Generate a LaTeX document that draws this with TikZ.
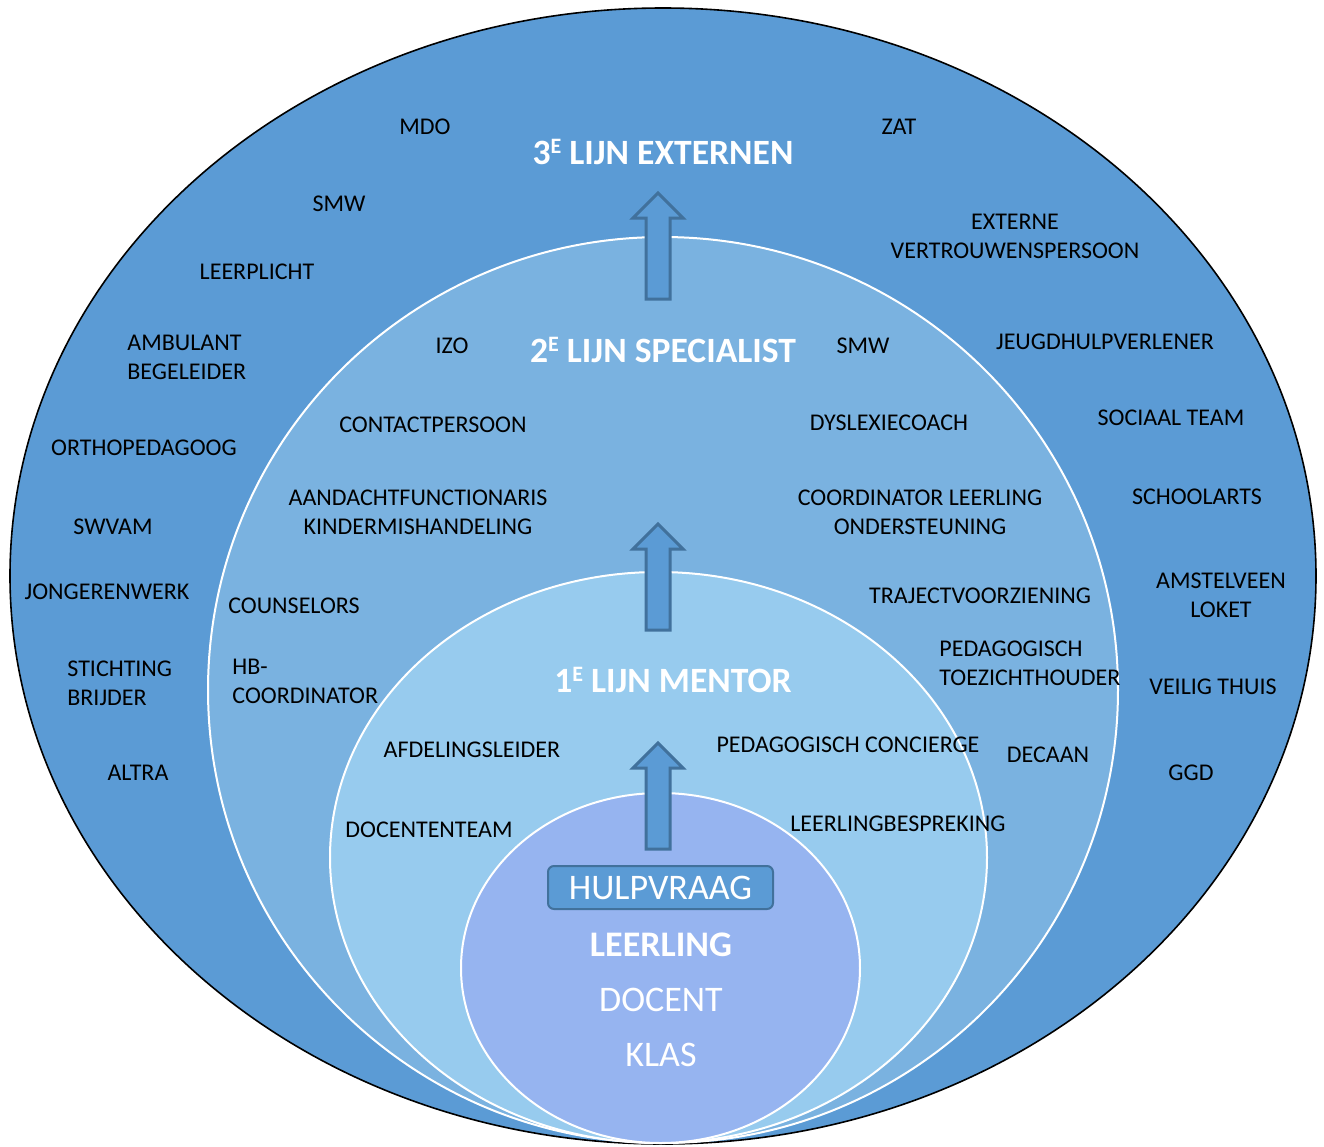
\documentclass[tikz,border=0pt]{standalone}
\usepackage{fontspec}
\setmainfont{Carlito}
\usepackage{xcolor}
\usetikzlibrary{positioning}
\definecolor{lineblue}{HTML}{5B9BD5}
\definecolor{ringblue}{HTML}{7AB2E0}
\definecolor{paleblue}{HTML}{97CBEE}
\definecolor{coreblue}{HTML}{96B4F0}
\definecolor{edgeblue}{HTML}{41719C}
\newcommand{\lijnsup}[1]{#1\raisebox{0.65ex}{\fontsize{11}{11}\selectfont E}}
\tikzset{role node/.style={font=\fontsize{12}{14.5}\selectfont, text=black, align=center, inner sep=0pt},
         left role/.style={role node, align=left, anchor=west},
         head node/.style={font=\fontsize{17.8}{20}\selectfont\bfseries, text=white, inner sep=0pt},
         core node/.style={font=\fontsize{18}{21}\selectfont, text=white, inner sep=0pt},
         up arrow/.style={draw=edgeblue, fill=lineblue, line width=1.5pt, line join=miter},
            }

\begin{document}
\begin{tikzpicture}[x=0.5pt,y=-0.5pt]
        \useasboundingbox (0,0) rectangle (1324,1147);
        % the four lines, outside in
        \draw[fill=lineblue, draw=black, line width=0.8pt] (663,576) ellipse [x radius=653, y radius=568];
        \draw[fill=ringblue, draw=white, line width=1pt] (663,690) ellipse [x radius=455, y radius=453];
        \draw[fill=paleblue, draw=white, line width=1pt] (658.5,857.5) ellipse [x radius=328.5, y radius=285.5];
        \draw[fill=coreblue, draw=white, line width=1pt] (660.5,968) ellipse [x radius=199.5, y radius=175];

        \foreach \tipy in {193,524,743}
          \draw[up arrow] (658,\tipy) -- ++(25,25) -- ++(-13,0) -- ++(0,81) -- ++(-24,0) -- ++(0,-81) -- ++(-13,0) -- cycle;

        % 3e lijn
        \node[head node] (lijn3) at (663,152) {\lijnsup{3} LIJN EXTERNEN};
        \node[role node] (mdo) at (425,127) {MDO};
        \node[role node] (zat) at (899,127) {ZAT};
        \node[role node] (smw3) at (339,204) {SMW};
        \node[role node] (vertrouwen) at (1015,236) {EXTERNE\\VERTROUWENSPERSOON};
        \node[role node] (leerplicht) at (257,272) {LEERPLICHT};
        \node[left role] (ambulant) at (127,357) {AMBULANT\\BEGELEIDER};
        \node[role node] (jeugdhulp) at (1105,342) {JEUGDHULPVERLENER};
        \node[role node] (ortho) at (144,448) {ORTHOPEDAGOOG};
        \node[role node] (sociaal) at (1171,418) {SOCIAAL TEAM};
        \node[role node] (swvam) at (113,527) {SWVAM};
        \node[role node] (schoolarts) at (1197,497) {SCHOOLARTS};
        \node[role node] (jongeren) at (107,592) {JONGERENWERK};
        \node[role node] (amstelveen) at (1221,595) {AMSTELVEEN\\LOKET};
        \node[left role] (brijder) at (67,683) {STICHTING\\BRIJDER};
        \node[role node] (veilig) at (1213,687) {VEILIG THUIS};
        \node[role node] (altra) at (138,773) {ALTRA};
        \node[role node] (ggd) at (1191,773) {GGD};

        % 2e lijn
        \node[head node] (lijn2) at (663,350) {\lijnsup{2} LIJN SPECIALIST};
        \node[role node] (izo) at (452,346) {IZO};
        \node[role node] (smw2) at (863,346) {SMW};
        \node[role node] (contact) at (433,425) {CONTACTPERSOON};
        \node[role node] (dyslexie) at (889,423) {DYSLEXIECOACH};
        \node[role node] (aandacht) at (418,512) {AANDACHTFUNCTIONARIS\\KINDERMISHANDELING};
        \node[role node] (coordinator) at (920,512) {COORDINATOR LEERLING\\ONDERSTEUNING};
        \node[role node] (counselors) at (294,606) {COUNSELORS};
        \node[role node] (traject) at (980,596) {TRAJECTVOORZIENING};
        \node[left role] (hb) at (232,681) {HB-\\COORDINATOR};
        \node[left role] (toezicht) at (939,663) {PEDAGOGISCH\\TOEZICHTHOUDER};
        \node[role node] (decaan) at (1048,755) {DECAAN};

        % 1e lijn
        \node[head node] (lijn1) at (673,680) {\lijnsup{1} LIJN MENTOR};
        \node[role node] (afdeling) at (472,750) {AFDELINGSLEIDER};
        \node[role node] (concierge) at (848,745) {PEDAGOGISCH CONCIERGE};
        \node[role node] (docententeam) at (429,830) {DOCENTENTEAM};
        \node[role node] (bespreking) at (898,824) {LEERLINGBESPREKING};

        % kern
        \node[core node, draw=edgeblue, fill=lineblue, line width=1pt, rounded corners=3pt,
              minimum width=112.5pt, minimum height=21.5pt] (hulpvraag) at (660.5,887.5) {HULPVRAAG};
        \node[core node, font=\fontsize{18}{21}\selectfont\bfseries] (leerling) at (661,945) {LEERLING};
        \node[core node] (docent) at (661,1000) {DOCENT};
        \node[core node] (klas) at (661,1055) {KLAS};
      \end{tikzpicture}
\end{document}
